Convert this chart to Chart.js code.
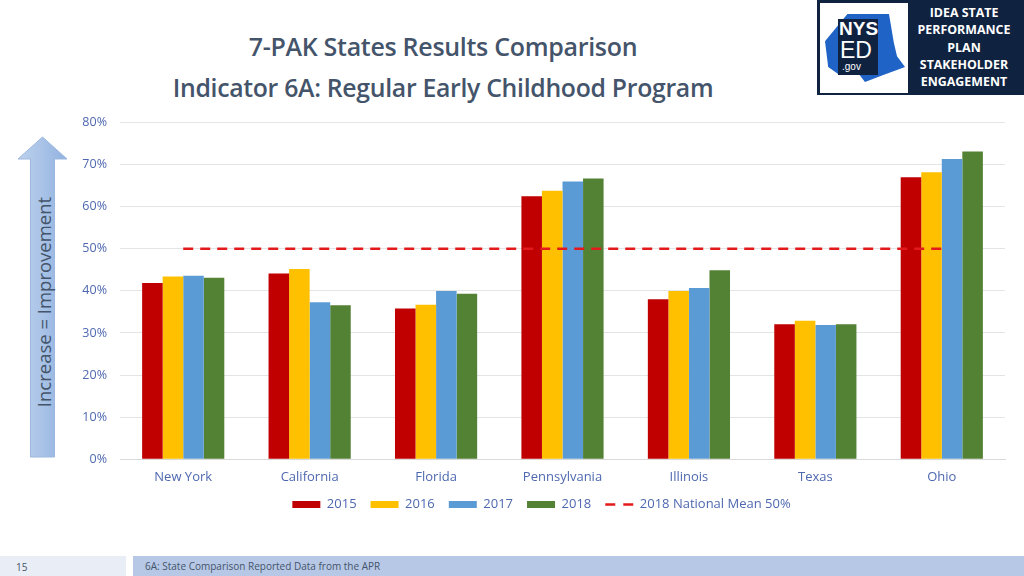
<!DOCTYPE html>
<html>
<head>
<meta charset="utf-8">
<script src="https://cdn.jsdelivr.net/npm/chart.js@4/dist/chart.umd.min.js"></script>
<style>
  html, body { margin: 0; padding: 0; }
  body { width: 1024px; height: 576px; position: relative; overflow: hidden; background: #fff; font-family: "Open Sans", sans-serif; }
  .title { position: absolute; left: 0; width: 886px; text-align: center; color: #44546a; font-weight: 600; letter-spacing: -0.3px; white-space: nowrap; }
  #t1 { top: 29px; font-size: 25px; }
  #t2 { top: 70px; font-size: 24.8px; }
  #logo { position: absolute; left: 817px; top: 0; width: 207px; height: 95px; background: #0f2341; }
  #logo .box { position: absolute; left: 3px; top: 3px; width: 88px; height: 90px; background: #fff; }
  #logo .state { position: absolute; left: 8px; top: 14px; width: 80px; height: 68px; background: #1f63c6; clip-path: polygon(28% 0, 80% 0, 86% 42%, 90% 62%, 100% 78%, 72% 90%, 50% 100%, 42% 88%, 16% 88%, 4% 78%, 0 40%); }
  #logo .sq { position: absolute; left: 21px; top: 19px; width: 40px; height: 56px; background: #0f2341; }
  #logo .nysTxt { position: absolute; left: 22px; top: 19px; color: #fff; font: 700 19px "Liberation Sans", sans-serif; line-height: 20px; }
  #logo .edTxt { position: absolute; left: 23px; top: 38px; color: #fff; font: 400 23px "Liberation Sans", sans-serif; line-height: 24px; }
  #logo .gov { position: absolute; left: 25px; top: 61px; color: #fff; font: 400 10px "Liberation Sans", sans-serif; }
  #logo .side { position: absolute; left: 90px; top: 4px; width: 114px; text-align: center; color: #fff; font: 700 12.4px "Open Sans", sans-serif; line-height: 17.3px; }
  #arrow { position: absolute; left: 17px; top: 136px; width: 51px; height: 322px; }
  #arrowTxt { position: absolute; left: 43px; top: 302px; transform: translate(-50%, -50%) rotate(-90deg); white-space: nowrap; color: #44546a; font: 400 18.5px "Open Sans", sans-serif; }
  #chartWrap { position: absolute; left: 78px; top: 102px; width: 932px; height: 419px; }
  #footL { position: absolute; left: 0; top: 556px; width: 126px; height: 20px; background: #e9edf5; color: #44546a; font: 400 10px "Open Sans", sans-serif; }
  #footR { position: absolute; left: 133px; top: 556px; width: 891px; height: 20px; background: #b7c8e6; color: #44546a; font: 400 10px "Open Sans", sans-serif; }
</style>
</head>
<body>
<div class="title" id="t1">7-PAK States Results Comparison</div>
<div class="title" id="t2">Indicator 6A: Regular Early Childhood Program</div>

<div id="logo">
  <div class="box"></div>
  <div class="state"></div>
  <div class="sq"></div>
  <div class="nysTxt">NYS</div>
  <div class="edTxt">ED</div>
  <div class="gov">.gov</div>
  <div class="side">IDEA STATE<br>PERFORMANCE<br>PLAN<br>STAKEHOLDER<br>ENGAGEMENT</div>
</div>

<svg id="arrow" viewBox="0 0 51 322">
  <defs>
    <linearGradient id="ag" x1="0" y1="0" x2="1" y2="0">
      <stop offset="0" stop-color="#bcd1ec"/>
      <stop offset="0.5" stop-color="#a9c3e7"/>
      <stop offset="1" stop-color="#8fb0df"/>
    </linearGradient>
  </defs>
  <polygon points="25.5,1 50,23 37.5,23 37.5,321 13.5,321 13.5,23 1,23" fill="url(#ag)" stroke="#9db8e0" stroke-width="1"/>
</svg>
<div id="arrowTxt">Increase = Improvement</div>

<div id="chartWrap"><canvas id="chart"></canvas></div>

<div id="footL"><span style="position:absolute;left:16px;top:4px">15</span></div>
<div id="footR"><span style="position:absolute;left:12px;top:3px">6A: State Comparison Reported Data from the APR</span></div>

<script>
// values, percent
const states = ['New York', 'California', 'Florida', 'Pennsylvania', 'Illinois', 'Texas', 'Ohio'];
const years = ['2015', '2016', '2017', '2018'];
const values2015 = [41.9, 44.1, 35.8, 62.5, 38.0, 32.1, 67.0];
const values2016 = [43.4, 45.2, 36.7, 63.8, 40.0, 32.9, 68.2];
const values2017 = [43.6, 37.3, 40.0, 66.0, 40.7, 31.9, 71.3];
const values2018 = [43.1, 36.6, 39.3, 66.7, 44.9, 32.1, 73.1];
const nationalMean = [50, 50, 50, 50, 50, 50, 50];
const yTicks = [0, 10, 20, 30, 40, 50, 60, 70, 80];

const barColors = ['#c00000', '#ffc000', '#5b9bd5', '#548235'];
const labelColor = '#4e68b0';
const font = 'Open Sans';

const barSets = [values2015, values2016, values2017, values2018].map((vals, i) => ({
  type: 'bar',
  label: years[i],
  data: vals,
  backgroundColor: barColors[i],
  borderWidth: 0,
  categoryPercentage: 0.65,
  barPercentage: 1.0,
  order: 2
}));

const meanSet = {
  type: 'line',
  label: '2018 National Mean 50%',
  data: nationalMean,
  borderColor: '#e31a1c',
  backgroundColor: '#e31a1c',
  borderWidth: 2.5,
  borderDash: [10, 7],
  pointRadius: 0,
  fill: false,
  order: 1
};

new Chart(document.getElementById('chart'), {
  data: { labels: states, datasets: [...barSets, meanSet] },
  options: {
    responsive: true,
    maintainAspectRatio: false,
    animation: false,
    layout: { padding: { top: 0, right: 5, bottom: 0, left: 0 } },
    plugins: {
      tooltip: { enabled: false },
      legend: {
        position: 'bottom',
        // empty title with negative padding pulls the legend row up towards the axis
        title: { display: true, text: '', font: { size: 10 }, padding: { top: -15.25, bottom: 0 } },
        labels: {
          color: labelColor,
          font: { family: font, size: 13 },
          usePointStyle: true,
          pointStyleWidth: 28,
          boxHeight: 7,
          padding: 14,
          generateLabels: (chart) => chart.data.datasets.map((ds, i) => ({
            text: ds.label,
            fillStyle: ds.type === 'line' ? 'rgba(0,0,0,0)' : ds.backgroundColor,
            strokeStyle: ds.type === 'line' ? ds.borderColor : ds.backgroundColor,
            lineWidth: ds.type === 'line' ? 2.5 : 0,
            lineDash: ds.type === 'line' ? [10, 8] : [],
            pointStyle: ds.type === 'line' ? 'line' : 'rect',
            fontColor: labelColor,
            hidden: false,
            datasetIndex: i
          }))
        }
      }
    },
    scales: {
      x: {
        afterFit: (scale) => { scale.height = 28; },
        grid: { display: false, drawTicks: false },
        border: { display: true, color: '#d9d9d9' },
        ticks: { color: labelColor, font: { family: font, size: 13 }, padding: 10 }
      },
      y: {
        min: 0,
        max: 80,
        afterFit: (scale) => { scale.width = 42; },
        afterBuildTicks: (scale) => { scale.ticks = yTicks.map((v) => ({ value: v })); },
        grid: { color: '#e4e4e4', drawTicks: false },
        border: { display: false },
        ticks: { color: labelColor, font: { family: font, size: 12.5 }, padding: 13, callback: (v) => v + '%' }
      }
    }
  }
});
</script>
</body>
</html>
